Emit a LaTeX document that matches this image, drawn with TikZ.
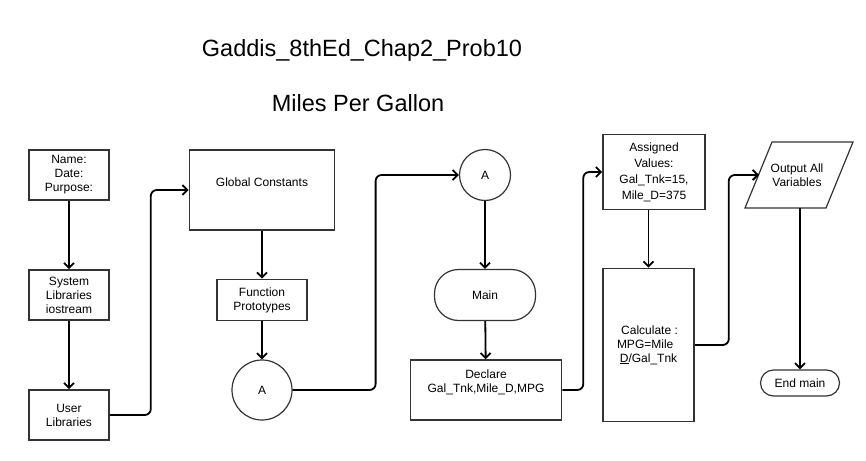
\documentclass[tikz,border=0pt]{standalone}
\usepackage{fontspec}
\setmainfont{Liberation Sans}
\usetikzlibrary{arrows.meta}

\begin{document}
\begin{tikzpicture}[x=1pt, y=-1pt,
	box/.style={draw=black!80, line width=1.6pt, align=center, inner sep=1pt,
		font=\fontsize{12}{14}\selectfont},
	conn/.style={draw=black!80, line width=1.2pt, circle, inner sep=0pt,
		font=\fontsize{12}{14}\selectfont},
	term/.style={box, line width=1.2pt},
	flow/.style={-{Straight Barb[length=5pt,width=10pt]}, line width=1.8pt, rounded corners=6pt},
	ttl/.style={font=\fontsize{23.5}{28}\selectfont}]
	\useasboundingbox[fill=white] (0,0) rectangle (866,460);
	% titles
	\node[ttl] (title) at (362,50) {Gaddis\_8thEd\_Chap2\_Prob10};
	\node[ttl] (subt) at (358,103) {Miles Per Gallon};
	% first column
	\node[box, minimum width=80, minimum height=50] (head) at (69,175) {Name:\\Date:\\Purpose:};
	\node[box, minimum width=80, minimum height=50] (sysl) at (69,295) {System\\Libraries\\iostream};
	\node[box, minimum width=80, minimum height=50] (usrl) at (69,415) {User\\Libraries};
	% second column
	\node[box, minimum width=145, minimum height=80] (glob) at (262,190) {Global Constants\\[-3pt]\strut};
	\node[box, minimum width=90, minimum height=41] (proto) at (262,300) {Function\\Prototypes};
	\node[conn, minimum size=60] (conA) at (262,390) {A};
	% third column
	\node[conn, minimum size=51] (conB) at (485,175) {A};
	\node[term, minimum width=101, minimum height=51, rounded corners=24pt] (mainb) at (485,295) {Main};
	\node[box, minimum width=151, minimum height=60] (decl) at (486,390) {Declare\\Gal\_Tnk,Mile\_D,MPG\\\strut};
	% fourth column
	\node[box, minimum width=102, minimum height=75, font=\fontsize{12}{16}\selectfont] (assg) at (654,172)
		{Assigned\\Values:\\Gal\_Tnk=15,\\Mile\_D=375};
	\node[box, minimum width=91, minimum height=153] (calc) at (648.5,345)
		{\,Calculate :\\MPG=Mile\phantom{\_}\\\underline{D}/Gal\_Tnk};
	% fifth column: output parallelogram
	\draw[draw=black!80, line width=1.2pt] (745,208) -- (772,142) -- (853,142) -- (826,208) -- cycle;
	\node[align=center, font=\fontsize{12}{14}\selectfont] (outp) at (797,175) {Output All\\Variables};
	\coordinate (outw) at (759,175);
	\coordinate (outs) at (800,208);
	\node[term, minimum width=79, minimum height=26, rounded corners=13pt] (endm) at (800,383) {End main};
	% connectors
	\draw[flow] (head) -- (sysl);
	\draw[flow] (sysl) -- (usrl);
	\draw[flow] (usrl.east) -- ++(41,0) |- (glob.west);
	\draw[flow] (glob) -- (proto);
	\draw[flow] (proto) -- (conA);
	\draw[flow] (conA.east) -- ++(83,0) |- (conB.west);
	\draw[flow] (conB) -- (mainb);
	\draw[flow] (mainb) -- (decl);
	\draw[flow] (decl.east) -- ++(21,0) |- (assg.west);
	\draw[flow] (calc.north |- assg.south) -- (calc.north);
	\draw[flow] (calc.east) -- ++(34,0) |- (outw);
	\draw[flow] (outs) -- (endm.north);
\end{tikzpicture}
\end{document}
